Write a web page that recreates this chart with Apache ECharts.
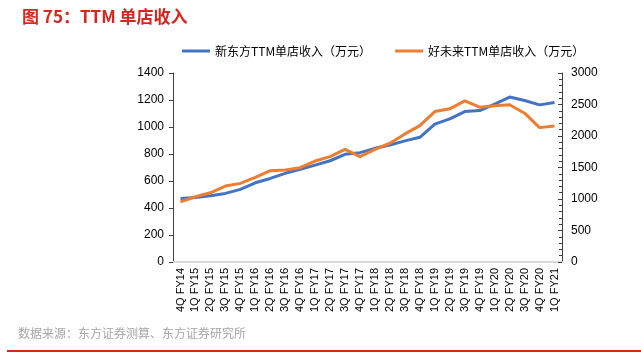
<!DOCTYPE html>
<html>
<head>
<meta charset="utf-8">
<script src="https://cdn.jsdelivr.net/npm/echarts@6/dist/echarts.min.js"></script>
<style>
  html, body { margin: 0; padding: 0; background: #fff; }
  #chart { width: 641px; height: 353px; }
</style>
</head>
<body>
<div id="chart"></div>
<script>
// quarters shown on the x axis
const categories = [
  '4Q FY14',
  '1Q FY15', '2Q FY15', '3Q FY15', '4Q FY15',
  '1Q FY16', '2Q FY16', '3Q FY16', '4Q FY16',
  '1Q FY17', '2Q FY17', '3Q FY17', '4Q FY17',
  '1Q FY18', '2Q FY18', '3Q FY18', '4Q FY18',
  '1Q FY19', '2Q FY19', '3Q FY19', '4Q FY19',
  '1Q FY20', '2Q FY20', '3Q FY20', '4Q FY20',
  '1Q FY21'
];

// New Oriental, left axis (万元)
const xdfRevenue = [
  470, 478, 490, 508, 538, 587, 619, 657, 686, 718, 750, 798, 810,
  842, 867, 897, 924, 1021, 1060, 1114, 1122, 1169, 1222, 1196, 1164, 1182
];

// TAL, right axis (万元)
const talRevenue = [
  955, 1035, 1099, 1205, 1248, 1343, 1449, 1460, 1497, 1603, 1672, 1789, 1672,
  1789, 1885, 2033, 2165, 2388, 2431, 2558, 2458, 2479, 2495, 2362, 2133, 2160
];

const chart = echarts.init(document.getElementById('chart'));

const labelFont = {
  fontSize: 12,
  color: '#000',
  fontFamily: 'Liberation Sans, Arial, sans-serif',
  formatter: v => String(v)   // no thousands separator
};

const option = {
  animation: false,
  title: {
    text: '图 75：TTM 单店收入',
    left: 17,
    top: 3,
    textStyle: {
      fontSize: 17,
      fontWeight: 'bold',
      color: '#d7261e',
      fontFamily: 'Noto Sans CJK SC, sans-serif'
    }
  },
  legend: {
    left: 177,
    top: 40,
    itemWidth: 28,
    itemHeight: 3,
    itemGap: 24,
    icon: 'rect',
    textStyle: {
      fontSize: 12,
      color: '#000',
      fontFamily: 'Noto Sans CJK SC, sans-serif'
    },
    data: ['新东方TTM单店收入（万元）', '好未来TTM单店收入（万元）']
  },
  grid: {
    left: 173,
    right: 79,
    top: 73,
    bottom: 91
  },
  xAxis: {
    type: 'category',
    data: categories,
    boundaryGap: true,
    axisLine: { lineStyle: { color: '#d9d9d9', width: 2 } },
    axisTick: { show: false },
    axisLabel: {
      rotate: 90,
      interval: 0,
      margin: 6,
      fontSize: 11,
      color: '#000',
      fontFamily: 'Liberation Sans, Arial, sans-serif'
    }
  },
  yAxis: [
    {
      type: 'value',
      min: 0,
      max: 1400,
      interval: 200,
      splitLine: { show: false },
      axisLine: { show: true, lineStyle: { color: '#404040', width: 1 } },
      axisTick: { show: true, length: 4, lineStyle: { color: '#404040' } },
      axisLabel: Object.assign({ margin: 9 }, labelFont)
    },
    {
      type: 'value',
      min: 0,
      max: 3000,
      interval: 500,
      splitLine: { show: false },
      axisLine: { show: true, lineStyle: { color: '#404040', width: 1 } },
      axisTick: { show: true, inside: true, length: 4, lineStyle: { color: '#404040' } },
      minorTick: { show: true, splitNumber: 5, length: 3, lineStyle: { color: '#404040' } },
      axisLabel: Object.assign({ margin: 9 }, labelFont)
    }
  ],
  series: [
    {
      name: '新东方TTM单店收入（万元）',
      type: 'line',
      yAxisIndex: 0,
      data: xdfRevenue,
      symbol: 'none',
      lineStyle: { width: 3, color: '#4472c4' },
      itemStyle: { color: '#4472c4' }
    },
    {
      name: '好未来TTM单店收入（万元）',
      type: 'line',
      yAxisIndex: 1,
      data: talRevenue,
      symbol: 'none',
      lineStyle: { width: 3, color: '#ed7d31' },
      itemStyle: { color: '#ed7d31' }
    }
  ],
  graphic: [
    {
      type: 'text',
      left: 18,
      top: 327,
      style: {
        text: '数据来源：东方证券测算、东方证券研究所',
        fontSize: 12,
        fill: '#a6a6a6',
        fontFamily: 'Noto Sans CJK SC, sans-serif'
      }
    },
    {
      type: 'rect',
      shape: { x: 7, y: 350, width: 634, height: 2 },
      style: { fill: '#d7261e' }
    }
  ]
};

chart.setOption(option);
</script>
</body>
</html>
